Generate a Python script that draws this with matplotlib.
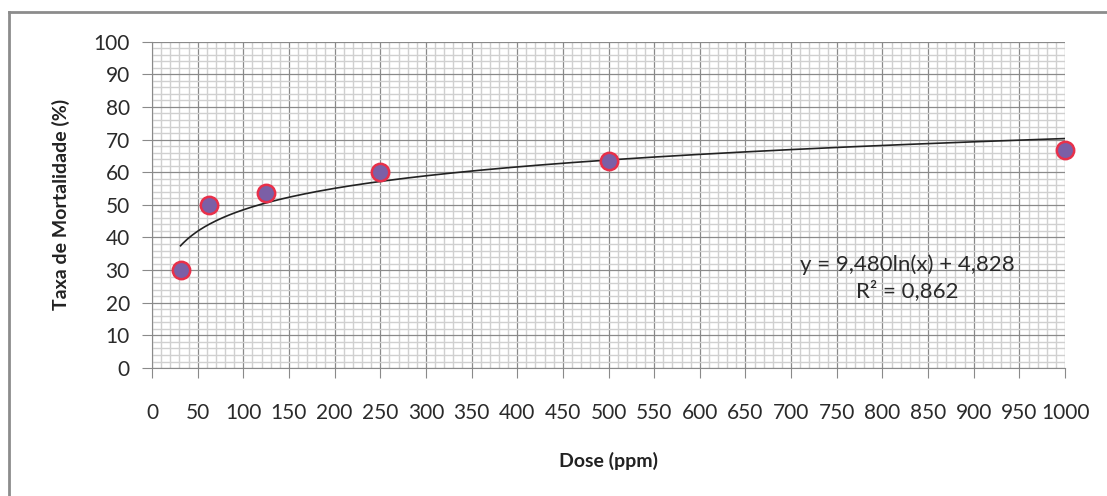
import numpy as np
import matplotlib.pyplot as plt
from matplotlib.lines import Line2D
from matplotlib.ticker import MultipleLocator

# Data
dose = [31.25, 62.5, 125, 250, 500, 1000]
mortality = [30, 50, 53.5, 60, 63.5, 66.7]
fit_a = 9.480
fit_b = 4.828
r2_text = "0,862"

plt.rcParams['font.family'] = ['Lato', 'DejaVu Sans']

fig = plt.figure(figsize=(11.07, 4.96), dpi=100)
ax = fig.add_axes([0.1373, 0.258, 0.8248, 0.658])

# grid paper look
ax.xaxis.set_major_locator(MultipleLocator(50))
ax.xaxis.set_minor_locator(MultipleLocator(10))
ax.yaxis.set_major_locator(MultipleLocator(10))
ax.yaxis.set_minor_locator(MultipleLocator(2))
ax.grid(which='minor', color='#d0d0d0', linewidth=1.0)
ax.grid(which='major', color='#8a8a8a', linewidth=0.9)
ax.set_axisbelow(True)

# logarithmic trend line
xs = np.linspace(dose[0], dose[-1], 400)
ax.plot(xs, fit_a * np.log(xs) + fit_b, color='#222222', linewidth=1.2)

ax.plot(dose, mortality, 'o', markersize=12.5, markerfacecolor='#7b5fa6',
        markeredgecolor='#e8304a', markeredgewidth=1.8, clip_on=False, zorder=5)

ax.set_xlim(0, 1000)
ax.set_ylim(0, 100)
for side in ['top', 'right']:
    ax.spines[side].set_visible(False)
for side in ['left', 'bottom']:
    ax.spines[side].set_color('#8a8a8a')
ax.tick_params(which='major', length=7, color='#8a8a8a', labelsize=15,
               labelcolor='#2a2a2a')
ax.tick_params(axis='x', pad=18)
ax.tick_params(axis='y', pad=9)
ax.tick_params(which='minor', length=0)

ax.set_xlabel('Dose (ppm)', fontsize=14, fontweight='bold', labelpad=21,
              color='#222222')
ax.set_ylabel('Taxa de Mortalidade (%)', fontsize=14, fontweight='bold', labelpad=17,
              color='#222222')

ax.text(827, 27.7, 'y = 9,480ln(x) + 4,828\nR² = ' + r2_text, ha='center', va='center',
        fontsize=16, color='#2a2a2a', linespacing=1.3)

# chart border (runs off the right and bottom edge)
fig.add_artist(Line2D([0.0085, 0.0085], [0.0, 0.976], color='#8c8c8c', linewidth=2))
fig.add_artist(Line2D([0.0085, 1.0], [0.976, 0.976], color='#8c8c8c', linewidth=2))

fig.savefig('out.png', dpi=100)
